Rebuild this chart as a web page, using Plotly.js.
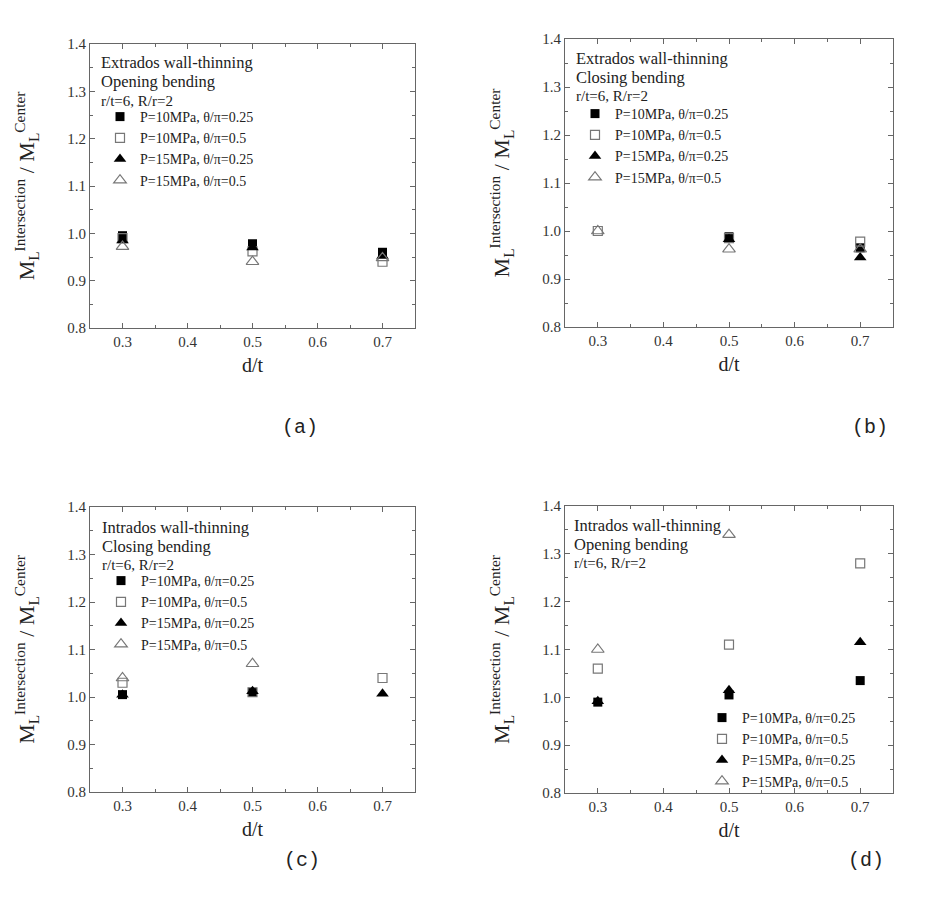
<!DOCTYPE html>
<html><head><meta charset="utf-8">
<script src="https://cdn.plot.ly/plotly-3.0.1.min.js"></script>
<style>body{margin:0;background:#fff}#plot{width:941px;height:911px}</style>
</head><body><div id="plot"></div>
<script>
// ---- data ----
const dt = [0.3, 0.5, 0.7];
const seriesNames = ["P=10MPa, θ/π=0.25", "P=10MPa, θ/π=0.5", "P=15MPa, θ/π=0.25", "P=15MPa, θ/π=0.5"];
// (a) Extrados, opening bending
const a_p10_t025 = [0.995, 0.978, 0.960];
const a_p10_t05  = [0.990, 0.962, 0.940];
const a_p15_t025 = [0.985, 0.970, 0.952];
const a_p15_t05  = [0.972, 0.940, 0.948];
// (b) Extrados, closing bending
const b_p10_t025 = [null, 0.988, 0.965];
const b_p10_t05  = [1.000, 0.985, 0.978];
const b_p15_t025 = [null, 0.983, 0.945];
const b_p15_t05  = [1.000, 0.962, 0.962];
// (c) Intrados, closing bending
const c_p10_t025 = [1.005, 1.010, null];
const c_p10_t05  = [1.030, 1.010, 1.040];
const c_p15_t025 = [1.005, 1.012, 1.007];
const c_p15_t05  = [1.040, 1.070, null];
// (d) Intrados, opening bending
const d_p10_t025 = [0.990, 1.005, 1.035];
const d_p10_t05  = [1.060, 1.110, 1.280];
const d_p15_t025 = [0.992, 1.015, 1.115];
const d_p15_t05  = [1.100, 1.340, null];

const panelHeaders = [
  ["Extrados wall-thinning", "Opening bending", "r/t=6, R/r=2"],
  ["Extrados wall-thinning", "Closing bending", "r/t=6, R/r=2"],
  ["Intrados wall-thinning", "Closing bending", "r/t=6, R/r=2"],
  ["Intrados wall-thinning", "Opening bending", "r/t=6, R/r=2"]
];
const panelLabels = ["(a)", "(b)", "(c)", "(d)"];
const xTicks = [0.3, 0.4, 0.5, 0.6, 0.7];
const yTicks = [0.8, 0.9, 1.0, 1.1, 1.2, 1.3, 1.4];

// ---- layout helpers ----
const W = 941, H = 911;
const px = v => v / W, py = v => 1 - v / H;
const serif = "Liberation Serif";
const styles = [
  {symbol: "square", size: 9, color: "#000", lw: 0},
  {symbol: "square-open", size: 9, color: "#777", lw: 1.2},
  {symbol: "triangle-up", size: 11, color: "#000", lw: 0},
  {symbol: "triangle-up-open", size: 11, color: "#777", lw: 1.2}
];
const panels = [
  {data: [a_p10_t025, a_p10_t05, a_p15_t025, a_p15_t05], x: [90, 415], y: [44, 328], hx: 99, hy: 63, leg: [100, 101]},
  {data: [b_p10_t025, b_p10_t05, b_p15_t025, b_p15_t05], x: [565, 893], y: [39, 327], hx: 574, hy: 58, leg: [575, 98]},
  {data: [c_p10_t025, c_p10_t05, c_p15_t025, c_p15_t05], x: [90, 415], y: [507, 792], hx: 100, hy: 527, leg: [101, 565]},
  {data: [d_p10_t025, d_p10_t05, d_p15_t025, d_p15_t05], x: [565, 893], y: [506, 793], hx: 572, hy: 525, leg: [702, 702]}
];
const labelPos = [[300, 427], [870, 427], [302, 860], [866, 860]];

const traces = [];
const layout = {
  width: W, height: H, margin: {l: 0, r: 0, t: 0, b: 0},
  paper_bgcolor: "#fff", plot_bgcolor: "#fff",
  font: {family: serif, color: "#222"},
  annotations: [], showlegend: true
};

panels.forEach((p, i) => {
  const n = i === 0 ? "" : String(i + 1);
  const legName = "legend" + n;
  p.data.forEach((vals, s) => {
    traces.push({
      type: "scatter", mode: "markers", x: dt, y: vals,
      name: seriesNames[s], xaxis: "x" + n, yaxis: "y" + n, legend: legName,
      marker: {symbol: styles[s].symbol, size: styles[s].size, color: styles[s].color,
               line: {width: styles[s].lw, color: styles[s].color}},
      cliponaxis: false
    });
  });
  const axCommon = {
    showline: true, linecolor: "#666", linewidth: 1, mirror: "ticks",
    ticks: "inside", ticklen: 5, tickcolor: "#666", showgrid: false, zeroline: false,
    tickfont: {family: serif, size: 15, color: "#333"}
  };
  layout["xaxis" + n] = Object.assign({}, axCommon, {
    domain: [px(p.x[0]), px(p.x[1])], range: [0.25, 0.75], anchor: "y" + n,
    tickvals: xTicks, ticktext: xTicks.map(v => v.toFixed(1)),
    minor: {dtick: 0.05, ticks: "inside", ticklen: 3, tickcolor: "#666", showgrid: false},
    title: {text: "d/t", font: {family: serif, size: 20, color: "#222"}, standoff: 8}
  });
  layout["yaxis" + n] = Object.assign({}, axCommon, {
    domain: [py(p.y[1]), py(p.y[0])], range: [0.8, 1.4], anchor: "x" + n,
    tickvals: yTicks, ticktext: yTicks.map(v => v.toFixed(1)),
    minor: {dtick: 0.05, ticks: "inside", ticklen: 3, tickcolor: "#666", showgrid: false},
    title: {text: "M<sub>L</sub><sup>Intersection</sup> / M<sub>L</sub><sup>Center</sup>",
            font: {family: serif, size: 22, color: "#222"}, standoff: 26}
  });
  layout[legName] = {
    x: px(p.leg[0]), y: py(p.leg[1]), xanchor: "left", yanchor: "top",
    bgcolor: "rgba(0,0,0,0)", borderwidth: 0,
    font: {family: serif, size: 14, color: "#222"}, tracegroupgap: 0
  };
  panelHeaders[i].forEach((t, k) => {
    layout.annotations.push({
      xref: "paper", yref: "paper", x: px(p.hx), y: py(p.hy + 19 * k),
      xanchor: "left", yanchor: "middle", showarrow: false, text: t,
      font: {family: serif, size: k < 2 ? 16.5 : 15, color: "#222"}
    });
  });
  layout.annotations.push({
    xref: "paper", yref: "paper", x: px(labelPos[i][0]), y: py(labelPos[i][1]),
    xanchor: "center", yanchor: "middle", showarrow: false, text: panelLabels[i],
    font: {family: "Liberation Mono", size: 20, color: "#222"}
  });
});

Plotly.newPlot("plot", traces, layout, {displayModeBar: false, staticPlot: true});
</script></body></html>
